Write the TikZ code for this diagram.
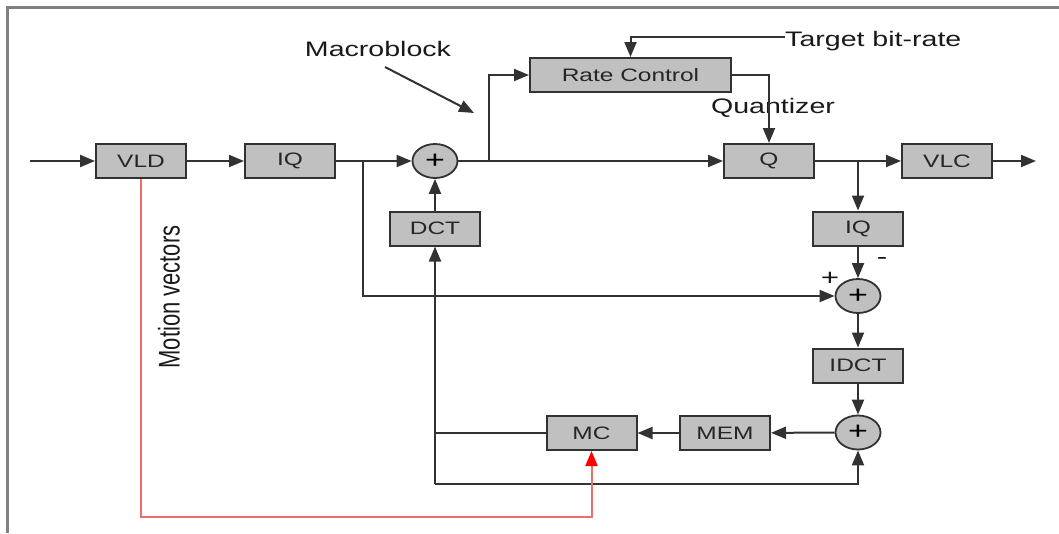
\documentclass[tikz,border=0pt]{standalone}
\usepackage{fontspec}
\setmainfont{Liberation Sans}
\usepackage{graphicx}
\usetikzlibrary{arrows.meta,shapes.geometric}
\newcommand{\hs}[1]{\scalebox{1.36}[1]{#1}}
\definecolor{boxfill}{RGB}{192,192,192}
\definecolor{edge}{RGB}{50,50,50}
\definecolor{framegray}{RGB}{128,128,128}
\definecolor{mvred}{RGB}{236,110,110}
\begin{document}
\begin{tikzpicture}[x=1pt,y=-1pt,
  blk/.style={draw=edge, line width=2pt, fill=boxfill, minimum width=90pt, minimum height=34pt, inner sep=0pt, font=\fontsize{18}{18}\selectfont, text=black!85},
  sumnode/.style={ellipse, draw=edge, line width=1.8pt, fill=boxfill, minimum width=45pt, minimum height=34pt, inner sep=0pt, font=\fontsize{25}{25}\selectfont},
  conn/.style={draw=edge, line width=2pt, -{Triangle[length=15pt,width=12pt]}},
  ln/.style={draw=edge, line width=2pt},
  lbl/.style={font=\fontsize{21}{21}\selectfont, text=black!90, inner sep=0pt}]
\useasboundingbox (0,0) rectangle (1059,533);
% frame
\draw[framegray, line width=3pt] (7.5,533) -- (7.5,7) -- (1059,7);

% blocks
\node[blk] (vld) at (141,161) {\hs{VLD}};
\node[blk] (iq1) at (290,161) {\hs{IQ}};
\node[sumnode] (s1) at (435,161) {\hs{+}};
\node[blk] (dct) at (435,228.5) {\hs{DCT}};
\node[blk, minimum width=201pt] (rc) at (630.5,75) {\hs{Rate Control}};
\node[blk] (q) at (769,161) {\hs{Q}};
\node[blk] (vlc) at (947,161) {\hs{VLC}};
\node[blk] (iq2) at (858,228.5) {\hs{IQ}};
\node[sumnode] (s2) at (858,296) {\hs{+}};
\node[blk] (idct) at (858,365.5) {\hs{IDCT}};
\node[sumnode] (s3) at (858,432.5) {\hs{+}};
\node[blk] (mem) at (725,433) {\hs{MEM}};
\node[blk] (mc) at (591.5,433) {\hs{MC}};

% labels
\node[lbl] (mb) at (378,49) {\hs{Macroblock}};
\node[lbl, anchor=west] (tb) at (785,41) {\hs{Target bit-rate}};
\node[lbl] (qz) at (773,108) {\hs{Quantizer}};
\node[lbl, font=\fontsize{22}{22}\selectfont, rotate=90] (mv) at (169,297) {\scalebox{1}[1.36]{Motion vectors}};
\node[lbl, font=\fontsize{23}{23}\selectfont] (pl) at (830,279) {\hs{+}};
\node[lbl, font=\fontsize{23}{23}\selectfont] (mi) at (882,261) {\hs{-}};

% coordinates
\coordinate (in) at (30,161);
\coordinate (out) at (1036,161);
\coordinate (mbA) at (385,67);
\coordinate (mbB) at (474,113);
\coordinate (b1) at (363,161);
\coordinate (b2) at (489,161);
\coordinate (b3) at (858,161);
\coordinate (fb) at (435,433);
\coordinate (bot) at (435,484);

% connectors
\draw[conn] (in) -- (vld);
\draw[conn] (vld) -- (iq1);
\draw[conn] (iq1) -- (s1);
\draw[conn] (dct) -- (s1);
\draw[conn] (s1) -- (q);
\draw[conn] (b2) |- (rc.west);
\draw[conn] ([yshift=4pt]tb.west) -| (rc.north);
\draw[conn] (rc.east) -| (q.north);
\draw[conn] (q) -- (vlc);
\draw[conn] (vlc) -- (out);
\draw[conn] (b3) -- (iq2);
\draw[conn] (iq2) -- (s2);
\draw[conn] (b1) |- (s2.west);
\draw[conn] (s2) -- (idct);
\draw[conn] (idct) -- (s3);
\draw[conn] (s3) -- (mem);
\draw[conn] (mem) -- (mc);
\draw[ln] (mc.west) -- (fb);
\draw[conn] (bot) -- (dct.south);
\draw[conn] (bot) -| (s3.south);
\draw[conn] (mbA) -- (mbB);
\draw[mvred, line width=2pt, -{Triangle[length=15pt,width=12pt,fill=red,color=red]}] (vld.south) |- (141,517) -| (mc.south);
\end{tikzpicture}
\end{document}
